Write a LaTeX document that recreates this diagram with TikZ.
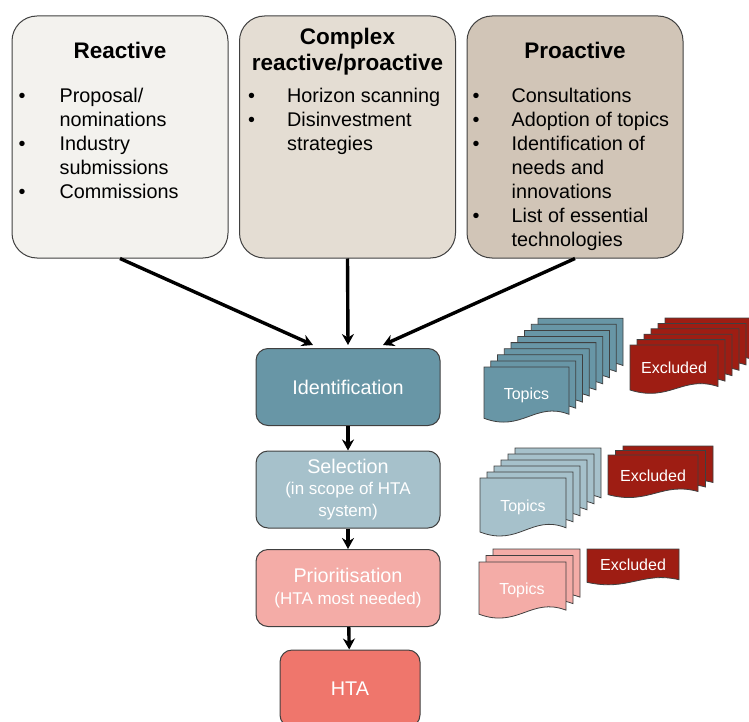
\documentclass[tikz,border=0pt]{standalone}
\usepackage{fontspec}
\setmainfont{Liberation Sans}
\usetikzlibrary{positioning, arrows.meta}
\definecolor{reactfill}{HTML}{F3F2EE}
\definecolor{complexfill}{HTML}{E4DDD3}
\definecolor{proactfill}{HTML}{D1C5B7}
\definecolor{identfill}{HTML}{6896A6}
\definecolor{selectfill}{HTML}{A6C1CB}
\definecolor{priorfill}{HTML}{F4ACA7}
\definecolor{htafill}{HTML}{EF766C}
\definecolor{exclfill}{HTML}{9E1D13}
\definecolor{edge}{HTML}{404040}
\tikzstyle{source} = [rectangle, rounded corners=25pt, minimum width=216pt, minimum height=242pt, draw=edge, line width=1pt]
\tikzstyle{title} = [inner sep=0pt, align=center, font=\fontsize{22.5}{26}\selectfont\bfseries]
\tikzstyle{list} = [inner sep=0pt, font=\fontsize{19.8}{24}\selectfont]
\tikzstyle{stage} = [rectangle, rounded corners=12pt, minimum width=184pt, minimum height=77pt, text centered, align=center, draw=edge, line width=1pt, text=white, font=\fontsize{19.8}{21.5}\selectfont]
\tikzstyle{sheet} = [draw=edge, line width=0.8pt]
\tikzstyle{sheetlabel} = [text=white, font=\fontsize{16}{19}\selectfont]
\tikzstyle{arrow} = [line width=3.4pt,->,>={Stealth[length=11pt,width=12pt]}]
\newcommand{\sm}{\fontsize{17}{20}\selectfont}
% stack of sheets: x, y, width, height, last index, dx, dy, fill
\newcommand{\docstack}[8]{%
  \foreach \i in {#5,...,0} {
    \begin{scope}[shift={({#1+\i*#6},{#2-\i*#7})}]
      \draw [sheet, fill=#8] (0,0) -- (#3,0) -- (#3,{0.83*#4})
        .. controls ({0.6*#3},{0.6*#4}) and ({0.45*#3},{1.15*#4}) .. (0,{0.9*#4}) -- cycle;
    \end{scope}
  }%
}

\begin{document}
\begin{tikzpicture}[x=1pt, y=-1pt, node distance=100.5pt]
        \useasboundingbox (0,0) rectangle (749,722);

        \node (reactive) [source, fill=reactfill] at (120,137) {};
        \node (complex) [source, fill=complexfill] at (347.5,137) {};
        \node (proactive) [source, fill=proactfill] at (575,137) {};

        \node (reactiveT) [title, below=26pt of reactive.north] {Reactive};
        \node (complexT) [title, below=12.5pt of complex.north] {Complex\\reactive/proactive};
        \node (proactiveT) [title, below=26pt of proactive.north] {Proactive};

        \node (reactiveL) [list, below right=70pt and 7pt of reactive.north west] {\begin{tabular}{@{}p{41pt}@{}l@{}}
          • & Proposal/\\ & nominations\\ • & Industry\\ & submissions\\ • & Commissions
        \end{tabular}};
        \node (complexL) [list, below right=70pt and 9pt of complex.north west] {\begin{tabular}{@{}p{39pt}@{}l@{}}
          • & Horizon scanning\\ • & Disinvestment\\ & strategies
        \end{tabular}};
        \node (proactiveL) [list, below right=70pt and 6pt of proactive.north west] {\begin{tabular}{@{}p{39pt}@{}l@{}}
          • & Consultations\\ • & Adoption of topics\\ • & Identification of\\ & needs and\\ & innovations\\
          • & List of essential\\ & technologies
        \end{tabular}};

        \node (ident) [stage, fill=identfill] at (348,387) {Identification};
        \node (select) [stage, fill=selectfill, below of=ident, yshift=-2pt] {Selection\\\sm (in scope of HTA\\\sm system)};
        \node (prior) [stage, fill=priorfill, below of=select, yshift=2pt] {Prioritisation\\\sm (HTA most needed)};
        \node (hta) [stage, fill=htafill, minimum width=140pt, below of=prior, xshift=2pt] {HTA};

        \docstack{484}{367}{85}{57}{8}{6.75}{6.1}{identfill}
        \node (identTopics) [sheetlabel] at (526.5,395) {Topics};
        \docstack{630}{345}{88}{50}{5}{7}{5.4}{exclfill}
        \node (identExcl) [sheetlabel] at (674,368) {Excluded};
        \docstack{480}{478}{86}{60}{5}{7}{6}{selectfill}
        \node (selectTopics) [sheetlabel] at (523,507) {Topics};
        \docstack{608}{455}{90}{44}{2}{7.5}{4.5}{exclfill}
        \node (selectExcl) [sheetlabel] at (653,476) {Excluded};
        \docstack{479}{562}{87}{58}{2}{7}{6.5}{priorfill}
        \node (priorTopics) [sheetlabel] at (522,590) {Topics};
        \docstack{587}{549}{92}{37}{0}{0}{0}{exclfill}
        \node (priorExcl) [sheetlabel] at (633,565) {Excluded};

        \draw [arrow] (reactive.south) -- ([xshift=-35pt,yshift=3pt]ident.north);
        \draw [arrow] (complex.south) -- ([yshift=3pt]ident.north);
        \draw [arrow] (proactive.south) -- ([xshift=35pt,yshift=3pt]ident.north);
        \draw [arrow] (ident) -- (select);
        \draw [arrow] (select) -- (prior);
        \draw [arrow] (prior) -- (hta);
\end{tikzpicture}
\end{document}
